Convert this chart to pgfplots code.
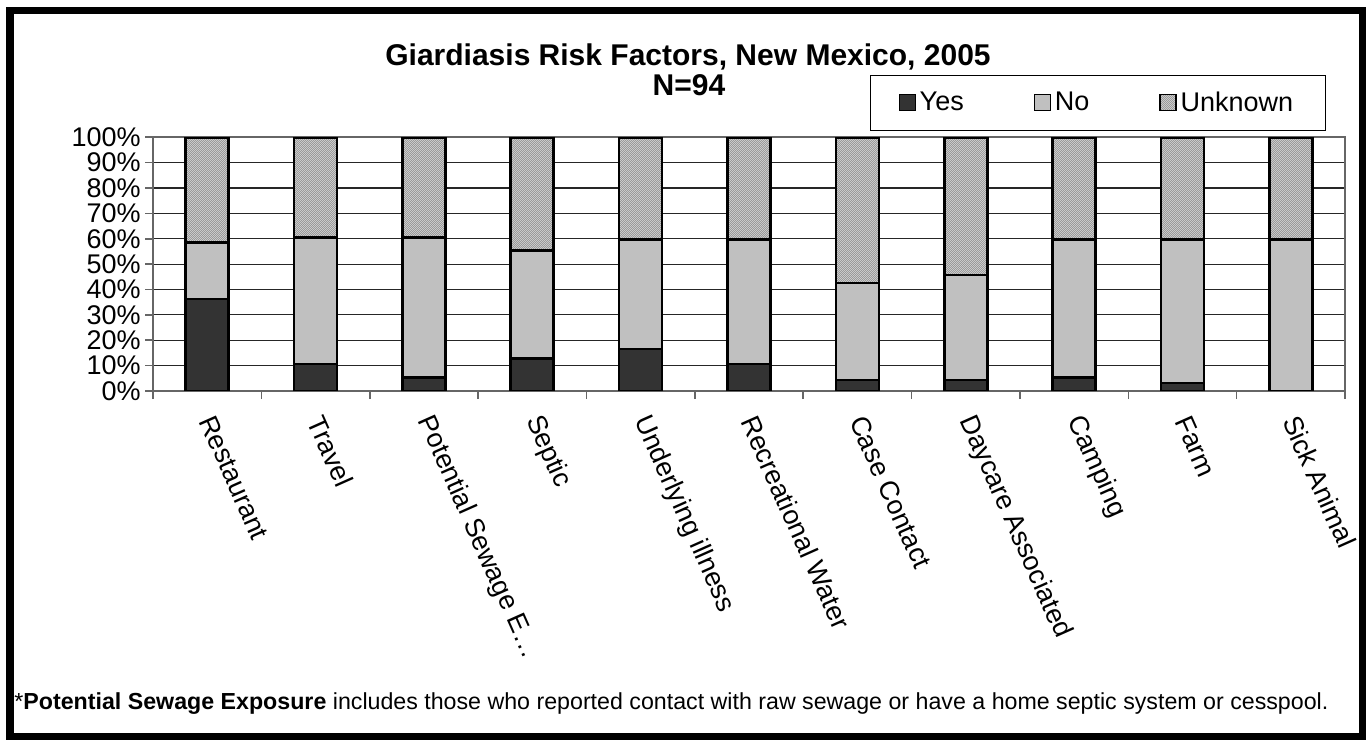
\documentclass[border=0pt]{standalone}
\usepackage{pgfplots}
\pgfplotsset{compat=1.18}
\usepackage{pgfplotstable}
\usepackage{fontspec}
\setmainfont{Liberation Sans}
\usetikzlibrary{patterns}
\definecolor{yescol}{HTML}{333333}
\definecolor{nocol}{HTML}{C0C0C0}
\definecolor{unkbg}{HTML}{D2D2D2}
\definecolor{unkdot}{HTML}{9A9A9A}
\pgfdeclarepatternformonly{finedots}{\pgfpointorigin}{\pgfpoint{1.2bp}{1.2bp}}{\pgfpoint{1.2bp}{1.2bp}}{%
  \pgfpathrectangle{\pgfpointorigin}{\pgfpoint{0.6bp}{0.6bp}}%
  \pgfpathrectangle{\pgfpoint{0.6bp}{0.6bp}}{\pgfpoint{0.6bp}{0.6bp}}%
  \pgfusepath{fill}}
\pgfplotsset{legimg/.style={legend image code/.code={\draw[##1, line width=0.6bp] (0bp,-4bp) rectangle (8bp,4bp);}}}
\pgfplotstableread{
x yes no unk
0 36.2 22.3 41.5
1 10.6 50.0 39.4
2 5.3 55.3 39.4
3 12.8 42.5 44.7
4 16.5 43.1 40.4
5 10.6 49.0 40.4
6 4.3 38.3 57.4
7 4.3 41.4 54.3
8 5.3 54.3 40.4
9 3.2 56.4 40.4
10 0 59.6 40.4
}\datatable
\begin{document}
\begin{tikzpicture}[x=0.5bp,y=0.5bp]
\useasboundingbox (0,0) rectangle (1369,740);
\coordinate (pa) at (153,349);
\begin{axis}[
  at={(pa)}, anchor=south west,
  scale only axis, width=596bp, height=126.85bp,
  xmin=-0.5, xmax=10.5, ymin=0, ymax=100,
  ybar stacked, bar width=21.5bp,
  font=\fontsize{13.5bp}{15bp}\selectfont,
  /pgf/number format/assume math mode=true,
  ytick={0,10,...,100},
  yticklabel={\pgfmathprintnumber{\tick}\%},
  yticklabel style={inner xsep=2bp},
  tick pos=left,
  tick align=outside,
  major tick length=4bp,
  ymajorgrids,
  y grid style={black!85, line width=0.6bp},
  axis line style={gray!80!black, line width=0.8bp},
  ytick style={gray!80!black, line width=0.8bp},
  xtick={0,...,10},
  xticklabels={Restaurant,Travel,Potential Sewage E…,Septic,Underlying illness,Recreational Water,Case Contact,Daycare Associated,Camping,Farm,Sick Animal},
  xtick style={draw=none},
  xticklabel style={rotate=-66, anchor=west, inner sep=0pt},
  xticklabel shift=9bp,
  extra x ticks={-0.5,0.5,...,10.5},
  extra x tick labels={},
  extra x tick style={xtick style={draw=gray!80!black, line width=0.8bp}, grid=none, major tick length=4bp},
  legend columns=3,
  legend style={at={(rel axis cs:0.6015,1.2456)}, anchor=north west, draw=black, line width=0.5bp,
    font=\fontsize{13.5bp}{15bp}\selectfont, inner xsep=14bp, inner ysep=6bp,
    /tikz/every even column/.append style={column sep=33bp}},
  legend cell align=left,
]
\addplot[fill=yescol, draw=black, line width=1.3bp, legimg] table[x=x,y=yes]{\datatable};
\addplot[fill=nocol, draw=black, line width=1.3bp, legimg] table[x=x,y=no]{\datatable};
\addplot[fill=unkbg, draw=black, line width=1.3bp, postaction={pattern=finedots, pattern color=unkdot}, legimg] table[x=x,y=unk]{\datatable};
\legend{Yes,No,Unknown}
\end{axis}
\node[anchor=base, font=\bfseries\fontsize{15bp}{17bp}\selectfont] at (688,674) {Giardiasis Risk Factors, New Mexico, 2005};
\node[anchor=base, font=\bfseries\fontsize{15bp}{17bp}\selectfont] at (689,644) {N=94};
\node[anchor=base west, inner sep=0pt, font=\fontsize{11.6bp}{13bp}\selectfont] at (14,31) {*\textbf{Potential Sewage Exposure} includes those who reported contact with raw sewage or have a home septic system or cesspool.};
\draw[line width=3.5bp] (10,729) rectangle (1362,4);
\end{tikzpicture}
\end{document}
